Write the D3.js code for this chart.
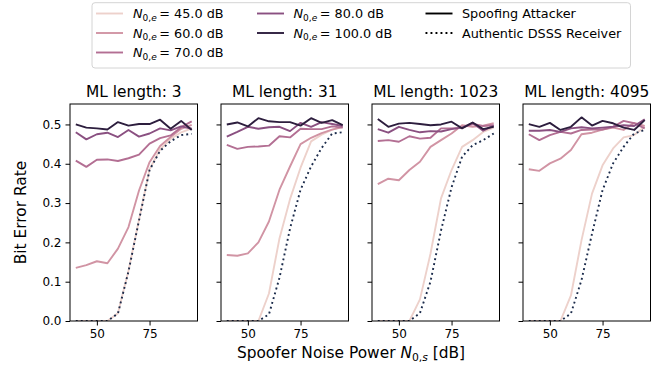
<!DOCTYPE html>
<html>
<head>
<meta charset="utf-8">
<script src="https://cdn.jsdelivr.net/npm/d3@7"></script>
<style>
  html, body { margin: 0; padding: 0; background: #fff; }
  svg { display: block; font-family: "DejaVu Sans", sans-serif; }
</style>
</head>
<body>
<svg id="chart" width="665" height="367"></svg>
<script>
// ---------------- DATA ----------------
const noisePower = [40, 45, 50, 55, 60, 65, 70, 75, 80, 85, 90, 95];
const eavesLevels = [45, 60, 70, 80, 100];
const panelTitles = ["ML length: 3", "ML length: 31", "ML length: 1023", "ML length: 4095"];
const xTicks = [50, 75];
const yTicks = [0.0, 0.1, 0.2, 0.3, 0.4, 0.5];

// ML length 3
const ml3_45  = [0, 0, 0, 0, 0.020, 0.128, 0.258, 0.386, 0.437, 0.463, 0.480, 0.490];
const ml3_60  = [0.135, 0.142, 0.152, 0.147, 0.184, 0.239, 0.332, 0.404, 0.445, 0.468, 0.489, 0.499];
const ml3_70  = [0.408, 0.392, 0.410, 0.411, 0.407, 0.414, 0.423, 0.451, 0.465, 0.472, 0.493, 0.508];
const ml3_80  = [0.480, 0.462, 0.475, 0.479, 0.468, 0.486, 0.469, 0.477, 0.490, 0.485, 0.495, 0.489];
const ml3_100 = [0.500, 0.492, 0.490, 0.487, 0.506, 0.497, 0.501, 0.501, 0.512, 0.489, 0.509, 0.486];
const ml3_auth = [0, 0, 0, 0, 0.019, 0.126, 0.256, 0.384, 0.433, 0.457, 0.473, 0.476];

// ML length 31
const ml31_45  = [0, 0, 0, 0, 0.070, 0.210, 0.310, 0.390, 0.457, 0.474, 0.487, 0.495];
const ml31_60  = [0.168, 0.166, 0.172, 0.200, 0.253, 0.334, 0.393, 0.450, 0.466, 0.478, 0.487, 0.493];
const ml31_70  = [0.448, 0.438, 0.443, 0.444, 0.446, 0.470, 0.467, 0.489, 0.488, 0.488, 0.495, 0.492];
const ml31_80  = [0.469, 0.481, 0.494, 0.489, 0.493, 0.494, 0.483, 0.504, 0.494, 0.506, 0.501, 0.496];
const ml31_100 = [0.500, 0.505, 0.495, 0.516, 0.508, 0.506, 0.506, 0.497, 0.516, 0.504, 0.511, 0.498];
const ml31_auth = [0, 0, 0, 0, 0.017, 0.110, 0.235, 0.334, 0.393, 0.440, 0.477, 0.480];

// ML length 1023
const ml1023_45  = [0, 0, 0, 0, 0.055, 0.171, 0.312, 0.384, 0.443, 0.460, 0.481, 0.492];
const ml1023_60  = [0.348, 0.362, 0.358, 0.384, 0.405, 0.443, 0.460, 0.477, 0.498, 0.494, 0.497, 0.503];
const ml1023_70  = [0.458, 0.460, 0.456, 0.470, 0.464, 0.466, 0.490, 0.490, 0.492, 0.501, 0.496, 0.498];
const ml1023_80  = [0.488, 0.479, 0.494, 0.486, 0.480, 0.483, 0.482, 0.488, 0.492, 0.504, 0.484, 0.497];
const ml1023_100 = [0.514, 0.494, 0.502, 0.504, 0.501, 0.498, 0.500, 0.507, 0.490, 0.505, 0.488, 0.494];
const ml1023_auth = [0, 0, 0, 0, 0.020, 0.100, 0.230, 0.340, 0.418, 0.447, 0.460, 0.477];

// ML length 4095
const ml4095_45  = [0, 0, 0, 0, 0.065, 0.205, 0.324, 0.396, 0.439, 0.467, 0.473, 0.494];
const ml4095_60  = [0.386, 0.382, 0.401, 0.413, 0.435, 0.475, 0.479, 0.487, 0.492, 0.486, 0.504, 0.496];
const ml4095_70  = [0.475, 0.460, 0.473, 0.481, 0.477, 0.486, 0.487, 0.487, 0.494, 0.509, 0.503, 0.490];
const ml4095_80  = [0.484, 0.484, 0.486, 0.481, 0.490, 0.493, 0.490, 0.492, 0.494, 0.498, 0.496, 0.513];
const ml4095_100 = [0.501, 0.494, 0.504, 0.486, 0.494, 0.518, 0.497, 0.509, 0.503, 0.492, 0.486, 0.511];
const ml4095_auth = [0, 0, 0, 0, 0.019, 0.104, 0.222, 0.333, 0.401, 0.443, 0.477, 0.486];

const spoofSeries = [
  [ml3_45, ml3_60, ml3_70, ml3_80, ml3_100],
  [ml31_45, ml31_60, ml31_70, ml31_80, ml31_100],
  [ml1023_45, ml1023_60, ml1023_70, ml1023_80, ml1023_100],
  [ml4095_45, ml4095_60, ml4095_70, ml4095_80, ml4095_100]
];
const authSeries = [ml3_auth, ml31_auth, ml1023_auth, ml4095_auth];

// ---------------- COLORS (seaborn default cubehelix) ----------------
function cubehelixSeaborn(t) {
  const x = 0.85 + (0.15 - 0.85) * t;
  const start = 0, rot = 0.4, hue = 0.8, gamma = 1.0;
  const f = (p0, p1) => {
    const xg = Math.pow(x, gamma);
    const a = hue * xg * (1 - xg) / 2;
    const phi = 2 * Math.PI * (start / 3 + rot * x);
    return Math.max(0, Math.min(1, xg + a * (p0 * Math.cos(phi) + p1 * Math.sin(phi))));
  };
  const r = f(-0.14861, 1.78277), g = f(-0.29227, -0.90649), b = f(1.97294, 0.0);
  return d3.rgb(r * 255, g * 255, b * 255).formatHex();
}
const hueScale = d3.scaleLinear().domain([d3.min(eavesLevels), d3.max(eavesLevels)]).range([0, 1]);
const colorOf = v => cubehelixSeaborn(hueScale(v));
const authColor = "#1b2b4b";

// ---------------- LAYOUT ----------------
const svg = d3.select("#chart");
const plotTop = 104, plotBottom = 321;
const panelLeft0 = 70, panelWidth = 127.5, panelStep = 151;
const lw = 1.9;

const y = d3.scaleLinear().domain([0, 0.552]).range([plotBottom, plotTop]);

panelTitles.forEach((title, i) => {
  const left = panelLeft0 + i * panelStep;
  const x = d3.scaleLinear().domain([37.25, 97.75]).range([left, left + panelWidth]);
  const g = svg.append("g");

  const clipId = "clip" + i;
  svg.append("clipPath").attr("id", clipId).append("rect")
    .attr("x", left).attr("y", plotTop).attr("width", panelWidth).attr("height", plotBottom - plotTop);

  const line = d3.line().x((d, j) => x(noisePower[j])).y(d => y(d));
  const plot = g.append("g").attr("clip-path", `url(#${clipId})`);

  spoofSeries[i].forEach((vals, k) => {
    plot.append("path").datum(vals)
      .attr("d", line)
      .attr("fill", "none")
      .attr("stroke", colorOf(eavesLevels[k]))
      .attr("stroke-width", lw)
      .attr("stroke-linejoin", "round");
  });
  plot.append("path").datum(authSeries[i])
    .attr("d", line)
    .attr("fill", "none")
    .attr("stroke", authColor)
    .attr("stroke-width", lw)
    .attr("stroke-dasharray", "1.9,3.1");

  // axes
  const yAxis = d3.axisLeft(y).tickValues(yTicks).tickSize(4.5).tickPadding(4)
    .tickFormat(i === 0 ? d3.format(".1f") : () => "");
  const ya = g.append("g").attr("transform", `translate(${left},0)`).call(yAxis);
  const xAxis = d3.axisBottom(x).tickValues(xTicks).tickSize(4.5).tickPadding(4).tickFormat(d3.format("d"));
  const xa = g.append("g").attr("transform", `translate(0,${plotBottom})`).call(xAxis);
  [ya, xa].forEach(a => {
    a.select(".domain").remove();
    a.selectAll("line").attr("stroke", "#000").attr("stroke-width", 1);
    a.selectAll("text").attr("fill", "#000").attr("font-size", "12px").attr("font-family", "DejaVu Sans");
  });

  g.append("rect")
    .attr("x", left).attr("y", plotTop).attr("width", panelWidth).attr("height", plotBottom - plotTop)
    .attr("fill", "none").attr("stroke", "#000").attr("stroke-width", 1);

  g.append("text")
    .attr("x", left + panelWidth / 2).attr("y", 97)
    .attr("text-anchor", "middle").attr("font-size", "15.4px")
    .text(title);
});

// y label
svg.append("text")
  .attr("transform", `translate(26,${(plotTop + plotBottom) / 2}) rotate(-90)`)
  .attr("text-anchor", "middle").attr("font-size", "15.4px")
  .text("Bit Error Rate");

// x label
const xl = svg.append("text")
  .attr("x", 351).attr("y", 358)
  .attr("text-anchor", "middle").attr("font-size", "15.4px");
xl.append("tspan").text("Spoofer Noise Power ");
xl.append("tspan").attr("font-style", "italic").text("N");
xl.append("tspan").attr("font-size", "10.8px").attr("dy", 3).text("0,");
xl.append("tspan").attr("font-size", "10.8px").attr("font-style", "italic").text("s");
xl.append("tspan").attr("dy", -3).text(" [dB]");

// ---------------- LEGEND ----------------
const legend = svg.append("g");
legend.append("rect")
  .attr("x", 92).attr("y", 2.7).attr("width", 538.5).attr("height", 65.3)
  .attr("rx", 3).attr("fill", "#fff").attr("fill-opacity", 0.8)
  .attr("stroke", "#d4d4d4").attr("stroke-width", 1);

const rowY = [13.5, 33, 52.5];
const cols = [
  { lx: 96, tx: 133 },
  { lx: 257, tx: 293.5 },
  { lx: 425.5, tx: 462 }
];
const legendItems = eavesLevels.map((v, k) => ({ kind: "level", value: v, color: colorOf(v) }))
  .concat([{ kind: "text", label: "Spoofing Attacker", dash: null },
           { kind: "text", label: "Authentic DSSS Receiver", dash: "1.9,3.1" }]);
const placement = [[0,0],[0,1],[0,2],[1,0],[1,1],[2,0],[2,1]];
legendItems.forEach((it, k) => {
  const [c, r] = placement[k];
  const cy = rowY[r];
  const col = cols[c];
  legend.append("line")
    .attr("x1", col.lx).attr("x2", col.lx + 27).attr("y1", cy).attr("y2", cy)
    .attr("stroke", it.kind === "level" ? it.color : "#000")
    .attr("stroke-width", lw)
    .attr("stroke-dasharray", it.dash || null);
  const t = legend.append("text").attr("x", col.tx).attr("y", cy + 4.6).attr("font-size", "12.8px");
  if (it.kind === "level") {
    t.append("tspan").attr("font-style", "italic").text("N");
    t.append("tspan").attr("font-size", "9px").attr("dy", 2.6).text("0,");
    t.append("tspan").attr("font-size", "9px").attr("font-style", "italic").text("e");
    t.append("tspan").attr("dy", -2.6).text("\u2009= ");
    t.append("tspan").text(d3.format(".1f")(it.value) + " dB");
  } else {
    t.text(it.label);
  }
});
</script>
</body>
</html>
